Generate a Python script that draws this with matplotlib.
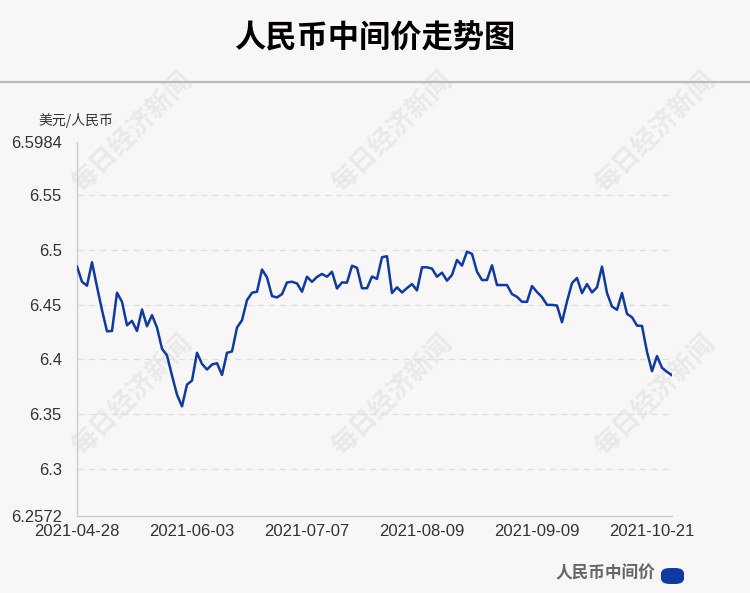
import numpy as np
import pandas as pd
import matplotlib
matplotlib.use("Agg")
import matplotlib.pyplot as plt
from matplotlib.patches import FancyBboxPatch

plt.rcParams['font.family'] = ['Liberation Sans', 'Noto Sans CJK SC', 'DejaVu Sans']

# trading days (CFETS central parity), 2021-04-28 .. 2021-10-27
holidays = ['2021-05-03', '2021-05-04', '2021-05-05', '2021-06-14',
            '2021-09-20', '2021-09-21', '2021-10-01', '2021-10-04',
            '2021-10-05', '2021-10-06', '2021-10-07']
dates = [d.strftime('%Y-%m-%d') for d in
         pd.bdate_range('2021-04-28', '2021-10-27', freq='C', holidays=holidays)]

# USD/CNY central parity
rates = [
    6.4847, 6.4709, 6.4673, 6.4887, 6.4664, 6.4450, 6.4257, 6.4260, 6.4609, 6.4526,
    6.4312, 6.4352, 6.4260, 6.4456, 6.4303, 6.4404, 6.4291, 6.4098, 6.4037, 6.3853,
    6.3679, 6.3572, 6.3771, 6.3807, 6.4061, 6.3960, 6.3908, 6.3954, 6.3966, 6.3859,
    6.4061, 6.4073, 6.4291, 6.4358, 6.4541, 6.4609, 6.4618, 6.4820, 6.4749, 6.4578,
    6.4566, 6.4596, 6.4703, 6.4709, 6.4694, 6.4618, 6.4755, 6.4708, 6.4753, 6.4780,
    6.4755, 6.4800, 6.4648, 6.4703, 6.4701, 6.4855, 6.4836, 6.4650, 6.4650, 6.4757,
    6.4735, 6.4933, 6.4942, 6.4606, 6.4658, 6.4612, 6.4651, 6.4688, 6.4630, 6.4841,
    6.4841, 6.4829, 6.4755, 6.4792, 6.4719, 6.4771, 6.4908, 6.4856, 6.4984, 6.4963,
    6.4801, 6.4725, 6.4725, 6.4859, 6.4679, 6.4679, 6.4679, 6.4596, 6.4572, 6.4526,
    6.4526, 6.4670, 6.4615, 6.4569, 6.4498, 6.4498, 6.4492, 6.4340, 6.4529, 6.4697,
    6.4743, 6.4606, 6.4688, 6.4612, 6.4658, 6.4847, 6.4606, 6.4483, 6.4453, 6.4606,
    6.4416, 6.4385, 6.4309, 6.4306, 6.4070, 6.3893, 6.4031, 6.3924, 6.3887, 6.3856,
]
dates = dates[:len(rates)]

y_ticks = [6.30, 6.35, 6.40, 6.45, 6.50, 6.55]
label_step = 23

bg = '#f9f6f7'
line_color = '#0f3a9f'

fig = plt.figure(figsize=(7.5, 5.93), dpi=100, facecolor=bg)
ax = fig.add_axes([77 / 750, 77 / 593, 595 / 750, 374 / 593])
ax.set_facecolor('none')

x = np.arange(len(rates))
ax.plot(x, rates, color=line_color, linewidth=1.8, solid_joinstyle='round', zorder=3)

ymin = round(min(rates) - 0.1, 4)
ymax = round(max(rates) + 0.1, 4)
ax.set_xlim(0, len(rates) - 1)
ax.set_ylim(ymin, ymax)

ticks = [ymin] + y_ticks + [ymax]
ax.set_yticks(ticks)
ax.set_yticklabels([('%.4f' % t).rstrip('0') if t in (ymin, ymax) else ('%g' % t) for t in ticks])
for t in y_ticks:
    ax.axhline(t, color='#e0dcdd', linewidth=0.9, linestyle=(0, (5, 4)), zorder=1)

ax.set_xticks(x[::label_step])
ax.set_xticklabels([dates[i] for i in x[::label_step]])

for side in ['top', 'right']:
    ax.spines[side].set_visible(False)
for side in ['left', 'bottom']:
    ax.spines[side].set_color('#cccccc')
    ax.spines[side].set_linewidth(1.0)
ax.tick_params(axis='both', length=0, labelsize=12, labelcolor='#333333')
ax.tick_params(axis='y', pad=11)
ax.tick_params(axis='x', pad=6)

# unit label
fig.text(38 / 750, 1 - 120 / 593, '美元/人民币', fontsize=10, color='#333333',
         family=['Noto Sans CJK SC', 'DejaVu Sans'], va='center', ha='left')

# title and separator
fig.text(0.5, 1 - 38 / 593, '人民币中间价走势图', fontsize=22.5, fontweight='bold',
         color='#000000', family=['Noto Sans CJK SC', 'DejaVu Sans'],
         ha='center', va='center')
fig.add_artist(plt.Line2D([0, 1], [1 - 82 / 593] * 2, color='#bbbbbb', linewidth=1.6))

# watermarks
for cx in [132, 392, 655]:
    for cy in [132, 395]:
        fig.text(cx / 750, 1 - cy / 593, '每日经济新闻', fontsize=19, fontweight='bold',
                 color='#000000', alpha=0.06, rotation=45,
                 family=['Noto Sans CJK SC', 'DejaVu Sans'],
                 ha='center', va='center', zorder=-1)

# legend
fig.text(655 / 750, 1 - 573 / 593, '人民币中间价', fontsize=12, fontweight='bold',
         color='#666666', family=['Noto Sans CJK SC', 'DejaVu Sans'],
         ha='right', va='center')
fig.add_artist(FancyBboxPatch((661 / 750, 1 - 584 / 593), 23 / 750, 16 / 593,
                              boxstyle='round,pad=0,rounding_size=0.012',
                              transform=fig.transFigure, facecolor=line_color,
                              edgecolor='none', mutation_aspect=593 / 750))

fig.savefig('out.png', dpi=100, facecolor=bg)
